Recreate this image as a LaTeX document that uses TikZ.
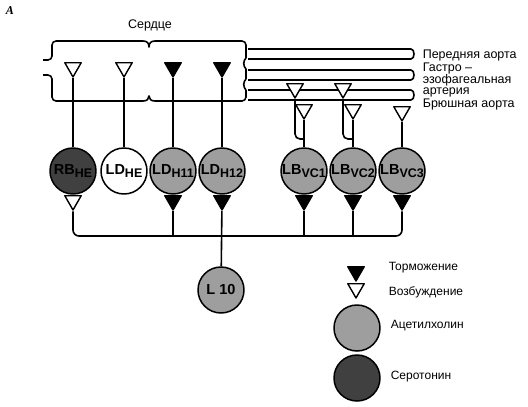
\documentclass[tikz,border=0pt]{standalone}
\usepackage{fontspec}
\setmainfont{Liberation Sans}
\newfontfamily\letterfont{Liberation Serif}
\usetikzlibrary{shapes.geometric,calc}

\definecolor{achgrey}{RGB}{158,158,158}
\definecolor{sergrey}{RGB}{64,64,64}

\newcommand{\nsub}[1]{\raisebox{-0.5ex}{\fontsize{12.5}{12.5}\selectfont #1}}

\tikzset{
  cell/.style={circle, draw, line width=1.5pt, minimum size=46pt, inner sep=0pt, font=\bfseries\fontsize{14.5}{14.5}\selectfont},
  ach/.style={cell, fill=achgrey},
  ser/.style={cell, fill=sergrey},
  excite/.style={regular polygon, regular polygon sides=3, shape border rotate=180, draw, fill=white, line width=1.4pt, minimum size=19pt, inner sep=0pt},
  inhib/.style={excite, fill=black},
  txt/.style={font=\fontsize{12}{11}\selectfont, align=left, anchor=west, inner sep=0pt}
}

\begin{document}
\begin{tikzpicture}[x=1pt, y=-1pt, line width=1.6pt, line join=round]

\useasboundingbox (0,0) rectangle (528,407);

\node[font=\letterfont\bfseries\itshape\fontsize{12}{12}\selectfont] (lettera) at (10,11) {A};

  % Heart

\node[font=\fontsize{12.5}{12.5}\selectfont] (heartlbl) at (150,25) {Сердце};

\draw[rounded corners=4] (43,60) -- (52,60) -- (52,41) -- (143,41);
\draw (143,41) .. controls (147,41) and (149,43) .. (149,47) .. controls (149,43) and (151,41) .. (155,41);
\draw[rounded corners=4] (155,41) -- (246,41) -- (246,58);
\draw (246,58) .. controls (243,61) and (243,66) .. (246,69) -- (246,79);
\draw (246,79) .. controls (243,82) and (243,87) .. (246,90);
\draw[rounded corners=4] (246,90) -- (246,101) -- (155,101);
\draw (155,101) .. controls (151,101) and (149,99) .. (149,96) .. controls (149,99) and (147,101) .. (143,101);
\draw[rounded corners=4] (143,101) -- (52,101) -- (52,75) -- (43,75);

  % Aortas

\draw (248,49) -- (411,49) .. controls (415,49) and (415,59) .. (411,59) -- (248,59); % anterior
\draw (248,70) -- (411,70) .. controls (415,70) and (415,80) .. (411,80) -- (248,80); % gastro-oesophageal
\draw (248,90) -- (411,90) .. controls (415,90) and (415,100) .. (411,100) -- (248,100); % abdominal

\node[txt, font=\fontsize{12.5}{11}\selectfont] (aortalbl) at (422,80) {Передняя аорта\\Гастро –\\эзофагеальная\\артерия\\Брюшная аорта};

  % Synapses on the heart

\node[excite, anchor=north] (hrb) at (73,62) {};
\node[excite, anchor=north] (hhe) at (124,62) {};
\node[inhib, anchor=north] (hh11) at (173,62) {};
\node[inhib, anchor=north] (hh12) at (222,62) {};

  % Synapses on the aortas

\node[excite, anchor=north] (vc1up) at (295,83) {};
\node[excite, anchor=north] (vc1low) at (304,104) {};
\node[excite, anchor=north] (vc2up) at (343,83) {};
\node[excite, anchor=north] (vc2low) at (353,104) {};
\node[excite, anchor=north] (vc3in) at (402,106) {};

  % Neurons

\node[ser] (rb) at (73,171) {RB\nsub{HE}};
\node[cell, fill=white] (ldhe) at (124,171) {LD\nsub{HE}};
\node[ach] (ldh11) at (173,171) {LD\nsub{H11}};
\node[ach] (ldh12) at (222,171) {LD\nsub{H12}};
\node[ach] (lbvc1) at (304,171) {LB\nsub{VC1}};
\node[ach] (lbvc2) at (353,171) {LB\nsub{VC2}};
\node[ach] (lbvc3) at (402,171) {LB\nsub{VC3}};
\node[ach] (l10) at (221,290) {L 10};

\draw (hrb) -- (rb);
\draw (hhe) -- (ldhe);
\draw (hh11) -- (ldh11);
\draw (hh12) -- (ldh12);

\draw (vc1low) -- (lbvc1);
\draw[rounded corners=5] (vc1up) |- (lbvc1 |- 0,139);
\draw (vc2low) -- (lbvc2);
\draw[rounded corners=5] (vc2up) |- (lbvc2 |- 0,139);
\draw (vc3in) -- (lbvc3);

  % Outputs onto the common line

\node[excite, anchor=north] (rbout) at (73,195) {};
\node[inhib, anchor=north] (h11out) at (173,195) {};
\node[inhib, anchor=north] (h12out) at (222,195) {};
\node[inhib, anchor=north] (vc1out) at (304,195) {};
\node[inhib, anchor=north] (vc2out) at (353,195) {};
\node[inhib, anchor=north] (vc3out) at (402,195) {};

\coordinate (bus) at (0,236);
\draw[rounded corners=6] (rbout) |- (bus -| vc3out) -- (vc3out);
\draw (h11out) -- (h11out |- bus);
\draw (h12out) -- (l10);
\draw (vc1out) -- (vc1out |- bus);
\draw (vc2out) -- (vc2out |- bus);

  % Legend

\node[inhib, anchor=north] (leginh) at (356,266) {};
\node[excite, anchor=north] (legexc) at (356,283) {};
\node[ach] (legach) at (357,328) {};
\node[ser] (legser) at (357,378) {};

\node[txt] (legtinh) at (388,268) {Торможение};
\node[txt] (legtexc) at (388,292) {Возбуждение};
\node[txt] (legtach) at (390,326) {Ацетилхолин};
\node[txt] (legtser) at (390,377) {Серотонин};

\end{tikzpicture}
\end{document}
